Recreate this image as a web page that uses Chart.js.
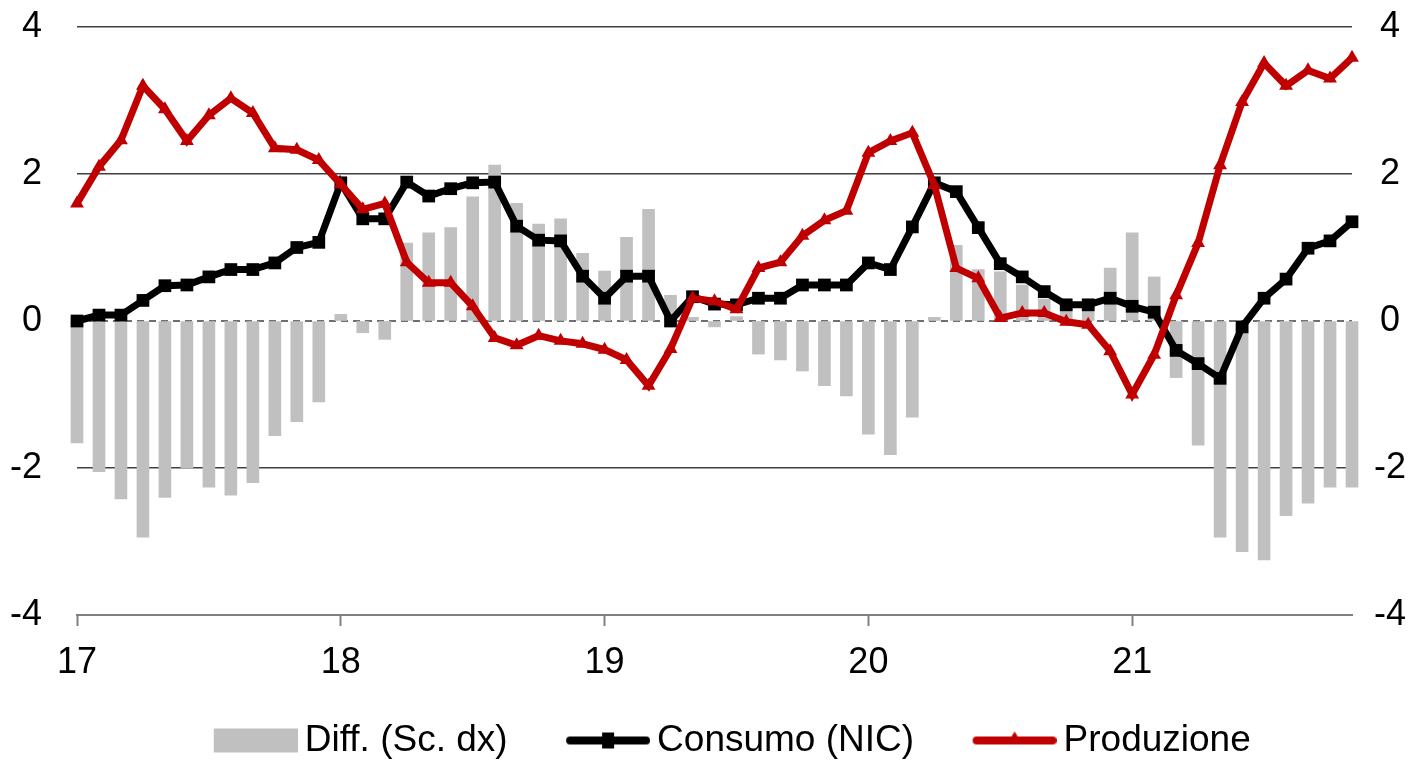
<!DOCTYPE html>
<html>
<head>
<meta charset="utf-8">
<script src="https://cdn.jsdelivr.net/npm/chart.js@4.4.1/dist/chart.umd.min.js"></script>
<style>
  html, body { margin: 0; background: #fff; }
  #wrap { width: 1426px; height: 762px; }
</style>
</head>
<body>
<div id="wrap"><canvas id="chart"></canvas></div>
<script>
const yearLabels = ['17', '18', '19', '20', '21'];
const monthNames = ['gen', 'feb', 'mar', 'apr', 'mag', 'giu', 'lug', 'ago', 'set', 'ott', 'nov', 'dic'];

// Jan 2017 .. Nov 2021
const diffValues = [
    -1.66, -2.05, -2.42, -2.94, -2.40, -2.00, -2.26, -2.37, -2.20, -1.56, -1.37, -1.10,
    0.09, -0.16, -0.25, 1.06, 1.20, 1.27, 1.69, 2.12, 1.60, 1.32, 1.39, 0.92,
    0.68, 1.14, 1.52, 0.35, 0.05, -0.08, 0.06, -0.45, -0.53, -0.68, -0.88, -1.02,
    -1.54, -1.82, -1.31, 0.05, 1.03, 0.70, 0.67, 0.49, 0.30, 0.22, 0.25, 0.72,
    1.20, 0.60, -0.77, -1.69, -2.94, -3.14, -3.25, -2.65, -2.48, -2.26, -2.26,
];
const consumoValues = [
    0.00, 0.08, 0.08, 0.28, 0.48, 0.49, 0.60, 0.70, 0.70, 0.79, 1.00, 1.07,
    1.88, 1.39, 1.39, 1.89, 1.70, 1.80, 1.88, 1.89, 1.29, 1.10, 1.09, 0.61,
    0.31, 0.61, 0.61, 0.00, 0.33, 0.23, 0.22, 0.31, 0.31, 0.49, 0.49, 0.49,
    0.79, 0.70, 1.28, 1.88, 1.76, 1.27, 0.78, 0.60, 0.40, 0.22, 0.22, 0.31,
    0.20, 0.12, -0.40, -0.58, -0.78, -0.08, 0.31, 0.57, 0.99, 1.09, 1.35,
];
const produzioneValues = [
    1.60, 2.10, 2.46, 3.20, 2.88, 2.45, 2.80, 3.03, 2.83, 2.35, 2.33, 2.19,
    1.86, 1.52, 1.60, 0.80, 0.52, 0.52, 0.20, -0.23, -0.33, -0.20, -0.27, -0.31,
    -0.39, -0.53, -0.88, -0.38, 0.31, 0.27, 0.16, 0.72, 0.80, 1.16, 1.37, 1.50,
    2.29, 2.45, 2.56, 1.85, 0.72, 0.58, 0.04, 0.11, 0.11, -0.01, -0.05, -0.41,
    -1.00, -0.46, 0.35, 1.06, 2.12, 2.98, 3.51, 3.20, 3.41, 3.30, 3.58,
];

const monthLabels = [];
yearLabels.forEach(year => monthNames.forEach(month => monthLabels.push(month + '-' + year)));
monthLabels.length = consumoValues.length;

const fontFamily = '"Liberation Sans", Arial, sans-serif';
const gridColor = '#404040';
const axisColor = '#808080';
const barColor = '#c0c0c0';
const redColor = '#c00000';

// legend icons: 134px wide canvas, visible symbol sits in its right part
function legendIcon(kind, color) {
    const canvas = document.createElement('canvas');
    canvas.width = 134;
    canvas.height = 26;
    const g = canvas.getContext('2d');
    const left = 50, right = 134;
    if (kind === 'bar') {
        g.fillStyle = barColor;
        g.fillRect(left, 1, right - left, 24);
        return canvas;
    }
    g.strokeStyle = color;
    g.fillStyle = color;
    g.lineWidth = 8;
    g.lineCap = 'round';
    g.beginPath();
    g.moveTo(left + 4, 13);
    g.lineTo(right - 4, 13);
    g.stroke();
    const mid = (left + right) / 2;
    if (kind === 'rect') g.fillRect(mid - 6, 5, 12, 16);
    else {
        g.beginPath();
        g.moveTo(mid, 4);
        g.lineTo(mid + 8, 17);
        g.lineTo(mid - 8, 17);
        g.closePath();
        g.fill();
    }
    return canvas;
}

const legendIcons = [legendIcon('bar'), legendIcon('rect', '#000'), legendIcon('triangle', redColor)];

const zeroLine = {
    id: 'zeroLine',
    beforeDatasetsDraw(chart) {
        const { ctx, chartArea, scales } = chart;
        const y = scales.y.getPixelForValue(0);
        ctx.save();
        ctx.strokeStyle = gridColor;
        ctx.lineWidth = 1.5;
        ctx.setLineDash([7, 5]);
        ctx.beginPath();
        ctx.moveTo(chartArea.left, y);
        ctx.lineTo(chartArea.right, y);
        ctx.stroke();
        ctx.restore();
    },
};

// fixed axis width; drop the label padding Chart.js adds above/below the axis
function fixVerticalAxis(width) {
    return scale => {
        scale.width = width;
        scale.paddingTop = 0;
        scale.paddingBottom = 0;
    };
}

new Chart(document.getElementById('chart'), {
    data: {
        labels: monthLabels,
        datasets: [
            {
                type: 'bar',
                label: 'Diff. (Sc. dx)',
                data: diffValues,
                yAxisID: 'y2',
                backgroundColor: barColor,
                borderWidth: 0,
                barThickness: 12,
                clip: false,
                order: 3,
            },
            {
                type: 'line',
                label: 'Consumo (NIC)',
                data: consumoValues,
                yAxisID: 'y',
                borderColor: '#000',
                backgroundColor: '#000',
                borderWidth: 7,
                pointStyle: 'rect',
                pointRadius: 9,
                pointBorderWidth: 0,
                tension: 0,
                order: 2,
            },
            {
                type: 'line',
                label: 'Produzione',
                data: produzioneValues,
                yAxisID: 'y',
                borderColor: redColor,
                backgroundColor: redColor,
                borderWidth: 7,
                pointStyle: 'triangle',
                pointRadius: 8,
                pointBorderWidth: 0,
                tension: 0,
                order: 1,
            },
        ],
    },
    options: {
        responsive: true,
        maintainAspectRatio: false,
        animation: false,
        layout: { padding: { top: 27, right: 0, left: 0, bottom: -7 } },
        plugins: {
            tooltip: { enabled: false },
            legend: {
                position: 'bottom',
                labels: {
                    color: '#000',
                    font: { family: fontFamily, size: 37 },
                    usePointStyle: true,
                    pointStyleWidth: 111,
                    boxHeight: 26,
                    padding: 20,
                    generateLabels: chart => chart.data.datasets.map((dataset, index) => ({
                        text: dataset.label,
                        pointStyle: legendIcons[index],
                        fillStyle: 'transparent',
                        strokeStyle: 'transparent',
                        lineWidth: 0,
                        hidden: false,
                        datasetIndex: index,
                        fontColor: '#000',
                    })),
                },
            },
        },
        scales: {
            x: {
                type: 'category',
                offset: false,
                afterFit: scale => { scale.height = 87; },
                grid: {
                    offset: false,
                    drawOnChartArea: false,
                    tickLength: 11,
                    tickWidth: 2,
                    tickColor: ctx => ctx.index % 12 === 0 ? axisColor : 'transparent',
                },
                border: { color: axisColor, width: 2 },
                ticks: {
                    autoSkip: false,
                    maxRotation: 0,
                    padding: 15,
                    color: '#000',
                    font: { family: fontFamily, size: 36 },
                    callback: (value, index) => index % 12 === 0 ? yearLabels[index / 12] : '',
                },
            },
            y: {
                position: 'left',
                min: -4,
                max: 4,
                afterFit: fixVerticalAxis(77),
                border: { display: false },
                grid: {
                    drawTicks: false,
                    lineWidth: 1.5,
                    color: ctx => (ctx.tick.value === 0 || ctx.tick.value === -4) ? 'transparent' : gridColor,
                },
                ticks: { stepSize: 2, padding: 35, color: '#000', font: { family: fontFamily, size: 36 } },
            },
            y2: {
                position: 'right',
                min: -4,
                max: 4,
                afterFit: fixVerticalAxis(74),
                border: { display: false },
                grid: { drawOnChartArea: false, drawTicks: false },
                ticks: { stepSize: 2, padding: 22, crossAlign: 'center', color: '#000', font: { family: fontFamily, size: 36 } },
            },
        },
    },
    plugins: [zeroLine],
});
</script>
</body>
</html>
